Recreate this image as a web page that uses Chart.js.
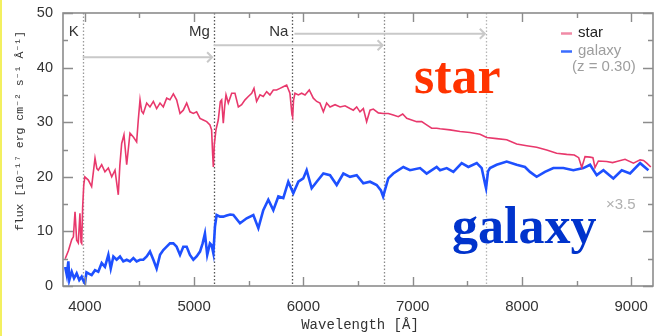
<!DOCTYPE html>
<html>
<head>
<meta charset="utf-8">
<script src="https://cdn.jsdelivr.net/npm/chart.js@4"></script>
<style>
html,body{margin:0;padding:0;background:#fff;}
#wrap{position:relative;width:657px;height:336px;}
canvas{display:block;}
</style>
</head>
<body>
<div id="wrap"><canvas id="c" width="657" height="336"></canvas></div>
<script>
// ---- data ----
const starWavelength = [3820,3850,3880,3895,3910,3925,3940,3955,3965,3971,3980,3990,4000,4032,4062,4093,4110,4123,4154,4184,4215,4246,4276,4306,4320,4337,4358,4383,4413,4444,4474,4489,4505,4520,4535,4566,4596,4627,4657,4688,4718,4749,4779,4810,4840,4871,4901,4932,4962,4993,5023,5054,5084,5115,5145,5160,5170,5176,5185,5200,5221,5240,5252,5267,5280,5292,5313,5344,5374,5405,5435,5466,5496,5527,5548,5572,5603,5633,5664,5694,5725,5755,5786,5816,5847,5877,5895,5902,5910,5923,5954,5984,6015,6054,6091,6122,6152,6183,6213,6244,6290,6336,6381,6427,6457,6488,6518,6549,6579,6610,6640,6686,6732,6777,6823,6869,6909,6946,6991,7037,7083,7128,7174,7220,7251,7342,7434,7525,7617,7678,7769,7861,7952,8044,8135,8227,8318,8410,8480,8520,8548,8578,8624,8650,8669,8700,8776,8830,8868,8944,9021,9082,9113,9143,9180];
const starFlux = [5.0,6.5,8.5,9.0,13.6,8.4,7.9,13.3,8.0,7.8,14.5,18.5,20.0,19.4,18.2,23.4,21.5,21.2,22.2,20.9,21.6,20.0,21.2,16.7,22.0,26.1,27.7,22.2,28.0,27.3,26.4,30.4,34.1,32.0,31.6,33.5,32.8,33.8,32.5,33.5,32.8,34.4,34.1,35.2,34.1,31.6,32.2,33.5,31.9,31.6,31.9,30.7,30.4,30.1,29.5,28.6,24.0,21.8,26.0,28.6,30.4,33.8,34.1,29.8,33.0,35.0,33.5,35.3,35.3,32.8,33.2,34.1,34.7,35.3,36.2,33.8,35.0,34.7,35.6,35.0,35.9,35.9,36.2,36.5,36.8,35.3,31.5,31.0,34.0,35.3,35.0,35.3,35.0,35.9,34.4,33.8,33.5,31.9,33.5,32.8,33.2,32.8,33.0,32.5,32.2,32.8,31.9,32.5,30.1,32.2,32.4,31.7,31.6,31.6,31.3,31.0,31.5,30.7,30.4,30.1,30.1,29.5,28.9,28.9,28.8,28.6,28.3,28.1,27.8,27.2,27.0,26.8,26.0,25.7,25.4,24.9,24.3,24.1,24.0,23.5,21.7,23.7,23.6,23.5,21.7,22.9,22.8,22.6,22.8,23.2,22.5,23.1,23.0,22.5,21.8];

const galaxyWavelength = [3820,3835,3849,3858,3880,3901,3925,3949,3971,3990,4001,4015,4032,4062,4093,4123,4154,4184,4215,4237,4261,4291,4322,4352,4383,4413,4444,4474,4505,4535,4566,4596,4627,4657,4688,4718,4749,4779,4810,4840,4871,4901,4932,4962,4993,5023,5054,5078,5099,5120,5145,5160,5176,5191,5206,5237,5267,5298,5330,5359,5420,5481,5542,5588,5633,5679,5725,5771,5816,5862,5908,5954,5999,6030,6076,6122,6183,6244,6305,6366,6427,6488,6549,6610,6671,6710,6730,6777,6823,6915,6976,7068,7128,7220,7251,7312,7373,7449,7510,7587,7632,7665,7672,7690,7708,7769,7861,7952,8028,8074,8135,8211,8288,8379,8471,8563,8624,8685,8746,8837,8914,8990,9082,9158];
const galaxyFlux = [3.5,2.0,4.5,1.1,2.6,1.4,2.3,1.1,1.7,0.8,0.5,2.5,2.3,2.0,2.9,2.6,4.2,3.5,5.7,3.2,5.4,4.8,5.4,4.5,4.8,4.5,5.1,4.5,4.8,4.8,5.4,6.3,4.8,3.2,5.7,6.6,7.2,7.8,7.8,7.2,5.7,7.2,7.2,5.7,4.8,5.4,6.3,7.8,9.6,5.7,7.8,7.5,6.0,10.9,13.0,12.7,12.7,12.9,13.1,13.0,11.5,12.4,13.0,10.6,13.9,15.8,13.9,16.4,16.1,19.1,17.0,19.1,19.7,21.2,17.9,19.1,20.6,20.3,18.5,20.6,20.0,20.3,18.8,19.1,18.5,17.5,16.4,19.7,20.6,21.8,21.2,21.6,20.6,21.8,21.2,21.6,20.9,22.5,21.8,22.5,21.6,18.5,17.9,21.0,21.6,22.2,22.8,22.2,21.8,20.9,20.0,20.9,21.6,21.6,21.2,21.6,22.2,20.3,21.2,19.7,21.2,20.6,22.5,21.2];

const xTickLabels = [4000,5000,6000,7000,8000,9000];
const yTickLabels = [0,10,20,30,40,50];

const lineNames = ['K','Mg','Na'];
const lineRestWavelength = [3980,5180,5900];
const redshift = 0.30;
const galaxyScale = '×3.5';

// ---- chart ----
const SANS = '"Liberation Sans", Arial, sans-serif';
const MONO = '"Liberation Mono", "DejaVu Sans Mono", monospace';
const SERIF = '"Liberation Serif", "Times New Roman", serif';

const deco = {
  id: 'deco',
  beforeDraw(chart) {
    const c = chart.ctx;
    c.save();
    c.fillStyle = '#ffffff';
    c.fillRect(0, 0, chart.width, chart.height);
    c.fillStyle = '#f3f060';
    c.fillRect(0, 0, 2, chart.height);
    c.restore();
  },
  beforeDatasetsDraw(chart) {
    const c = chart.ctx, a = chart.chartArea, x = chart.scales.x, y = chart.scales.y;
    c.save();
    const dotted = [];
    lineRestWavelength.forEach((w, i) => {
      dotted.push({w: w, col: i === 0 ? '#9a9a9a' : '#555555'});
      if (i > 0) dotted.push({w: w * (1 + redshift), col: i === 1 ? '#8a8a8a' : '#b5b5b5'});
    });
    c.lineWidth = 1.3;
    c.setLineDash([1.5, 2]);
    dotted.forEach(d => {
      const px = Math.round(x.getPixelForValue(d.w)) + 0.5;
      c.strokeStyle = d.col;
      c.beginPath(); c.moveTo(px, a.top); c.lineTo(px, a.bottom); c.stroke();
    });
    c.setLineDash([]);
    const levels = [41.9, 44.1, 46.2];
    c.strokeStyle = '#c9c9c9';
    c.lineWidth = 2;
    lineRestWavelength.forEach((w, i) => {
      const x0 = x.getPixelForValue(w) + (i === 2 ? 2 : 0);
      const x1 = x.getPixelForValue(w * (1 + redshift)) - 1;
      const py = y.getPixelForValue(levels[i]);
      c.beginPath(); c.moveTo(x0, py); c.lineTo(x1, py); c.stroke();
      c.beginPath(); c.moveTo(x1 - 5, py - 5); c.lineTo(x1, py); c.lineTo(x1 - 5, py + 5); c.stroke();
    });
    c.fillStyle = '#333333';
    c.font = '15px ' + SANS;
    c.textAlign = 'right';
    c.textBaseline = 'middle';
    lineNames.forEach((n, i) => {
      const px = x.getPixelForValue(lineRestWavelength[i]) - 4;
      c.fillText(n, px, y.getPixelForValue(46.6));
    });
    c.restore();
  },
  afterDatasetsDraw(chart) {
    const c = chart.ctx, a = chart.chartArea, x = chart.scales.x, y = chart.scales.y;
    c.save();
    c.strokeStyle = '#8c8c8c';
    c.lineWidth = 1.6;
    c.strokeRect(a.left, a.top, a.right - a.left, a.bottom - a.top);
    c.lineWidth = 1.4;
    c.beginPath();
    for (let i = 0; i < xTickLabels.length; i++) {
      const v = xTickLabels[i];
      [[v, 9], [v + 500, 5]].forEach(([tv, len]) => {
        if (tv > x.max) return;
        const px = Math.round(x.getPixelForValue(tv)) + 0.5;
        c.moveTo(px, a.bottom); c.lineTo(px, a.bottom - len);
        c.moveTo(px, a.top); c.lineTo(px, a.top + len);
      });
    }
    for (let i = 0; i < yTickLabels.length; i++) {
      const v = yTickLabels[i];
      [[v, 10], [v + 5, 5]].forEach(([tv, len]) => {
        if (tv > y.max) return;
        const py = Math.round(y.getPixelForValue(tv)) + 0.5;
        c.moveTo(a.left, py); c.lineTo(a.left + len, py);
        c.moveTo(a.right, py); c.lineTo(a.right - len, py);
      });
    }
    c.stroke();
    c.fillStyle = '#333333';
    c.font = '14px ' + MONO;
    c.textAlign = 'center';
    c.textBaseline = 'middle';
    c.fillText('Wavelength [Å]', (a.left + a.right) / 2 + 2, 325);
    c.save();
    c.translate(20, 131);
    c.rotate(-Math.PI / 2);
    c.font = '11.5px ' + MONO;
    c.fillText('flux [10⁻¹⁷ erg cm⁻² s⁻¹ Å⁻¹]', 0, 0);
    c.restore();
    c.lineWidth = 2.5;
    c.strokeStyle = '#f08aa6';
    c.beginPath(); c.moveTo(561, 33.5); c.lineTo(572, 33.5); c.stroke();
    c.strokeStyle = '#3a6cff';
    c.beginPath(); c.moveTo(561, 51.5); c.lineTo(572, 51.5); c.stroke();
    c.font = '15px ' + SANS;
    c.textAlign = 'left';
    c.fillStyle = '#222222';
    c.fillText('star', 578, 33);
    c.fillStyle = '#9e9e9e';
    c.fillText('galaxy', 578, 51);
    c.fillText('(z = ' + redshift.toFixed(2) + ')', 572, 67);
    c.fillStyle = '#b0b0b0';
    c.fillText(galaxyScale, 606, 205);
    c.textBaseline = 'alphabetic';
    c.font = 'bold 52px ' + SERIF;
    c.fillStyle = '#ff3300';
    c.fillText('star', 414, 93);
    c.fillStyle = '#0033cc';
    c.fillText('galaxy', 452, 243);
    c.restore();
  }
};

new Chart(document.getElementById('c'), {
  type: 'line',
  data: {
    datasets: [
      {
        label: 'star',
        data: starWavelength.map((w, i) => ({x: w, y: starFlux[i]})),
        borderColor: '#e8386c',
        borderWidth: 1.6,
        pointRadius: 0,
        tension: 0
      },
      {
        label: 'galaxy',
        data: galaxyWavelength.map((w, i) => ({x: w, y: galaxyFlux[i]})),
        borderColor: '#1e50ff',
        borderWidth: 2.6,
        pointRadius: 0,
        tension: 0
      }
    ]
  },
  options: {
    responsive: false,
    animation: false,
    devicePixelRatio: 1,
    layout: {padding: {top: 13, right: 4, left: 0, bottom: 0}},
    plugins: {legend: {display: false}, tooltip: {enabled: false}},
    scales: {
      x: {
        type: 'linear',
        min: 3800,
        max: 9200,
        afterBuildTicks: s => { s.ticks = xTickLabels.map(v => ({value: v})); },
        afterFit: s => { s.height = 50; s.paddingLeft = 0; s.paddingRight = 0; },
        grid: {display: false, drawTicks: false},
        border: {display: false},
        ticks: {
          color: '#333333',
          font: {family: SANS, size: 15},
          padding: 12,
          maxRotation: 0,
          autoSkip: false,
          callback: v => String(v)
        }
      },
      y: {
        type: 'linear',
        min: 0,
        max: 50,
        afterBuildTicks: s => { s.ticks = yTickLabels.map(v => ({value: v})); },
        afterFit: s => { s.width = 63; s.paddingTop = 0; s.paddingBottom = 0; },
        grid: {display: false, drawTicks: false},
        border: {display: false},
        ticks: {
          color: '#333333',
          font: {family: SANS, size: 14.5},
          padding: 10,
          callback: v => String(v)
        }
      }
    }
  },
  plugins: [deco]
});
</script>
</body>
</html>
